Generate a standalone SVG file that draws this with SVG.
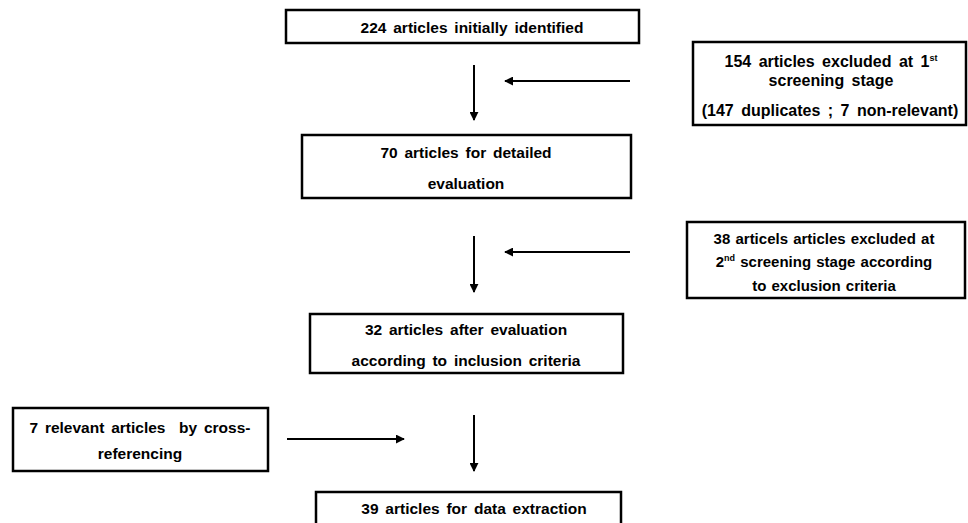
<svg xmlns="http://www.w3.org/2000/svg" width="968" height="523" viewBox="0 0 968 523">
<style>
.box{fill:#fff;stroke:#000;stroke-width:2.5}
.t{font-family:"Liberation Sans",Arial,sans-serif;font-weight:bold;font-size:15.5px;word-spacing:2.5px;fill:#000;text-anchor:middle}
.r1{font-size:16px;word-spacing:3px}
.r2{font-size:15px;word-spacing:1px}
.sup{font-size:9px}
.c{stroke:#000;stroke-width:2;fill:none}
</style>
<defs>
<marker id="ah" viewBox="0 0 10 10" refX="9" refY="5" markerWidth="4.5" markerHeight="4.5" orient="auto" markerUnits="strokeWidth">
<path d="M0,0 L10,5 L0,10 z" fill="#000"/>
</marker>
</defs>
<rect width="968" height="523" fill="#fff"/>
<g id="n1"><rect class="box" x="286" y="10" width="353" height="33"/><text class="t" x="472" y="32.5">224 articles initially identified</text></g>
<g id="n2"><rect class="box" x="693" y="42" width="273" height="83"/>
<text class="t r1" x="831" y="66.5">154 articles excluded at 1<tspan class="sup" dy="-6">st</tspan></text>
<text class="t r1" x="831" y="85.5">screening stage</text>
<text class="t r1" x="830" y="115.5">(147 duplicates ; 7 non-relevant)</text></g>
<g id="n3"><rect class="box" x="302" y="135" width="329" height="63"/>
<text class="t" x="466" y="157.5">70 articles for detailed</text>
<text class="t" x="466" y="188.5">evaluation</text></g>
<g id="n4"><rect class="box" x="687" y="222" width="278" height="76"/>
<text class="t r2" x="824" y="243.5">38 articels articles excluded at</text>
<text class="t r2" x="824" y="267">2<tspan class="sup" dy="-6">nd</tspan><tspan dy="6"> screening stage according</tspan></text>
<text class="t r2" x="824" y="290.5">to exclusion criteria</text></g>
<g id="n5"><rect class="box" x="310" y="314" width="313" height="59"/>
<text class="t" x="466" y="335">32 articles after evaluation</text>
<text class="t" x="466" y="366">according to inclusion criteria</text></g>
<g id="n6"><rect class="box" x="13" y="408" width="255" height="63"/>
<text class="t" x="140" y="432.5" xml:space="preserve">7 relevant articles  by cross-</text>
<text class="t" x="140" y="458.5">referencing</text></g>
<g id="n7"><rect class="box" x="316" y="492" width="305" height="40"/>
<text class="t" x="474" y="513.5">39 articles for data extraction</text></g>
<g id="connectors">
<line class="c" x1="474" y1="65" x2="474" y2="120" marker-end="url(#ah)"/>
<line class="c" x1="630" y1="81" x2="505" y2="81" marker-end="url(#ah)"/>
<line class="c" x1="474" y1="236" x2="474" y2="292" marker-end="url(#ah)"/>
<line class="c" x1="630" y1="252" x2="505" y2="252" marker-end="url(#ah)"/>
<line class="c" x1="287" y1="439" x2="404" y2="439" marker-end="url(#ah)"/>
<line class="c" x1="474" y1="415" x2="474" y2="471" marker-end="url(#ah)"/>
</g>
</svg>
